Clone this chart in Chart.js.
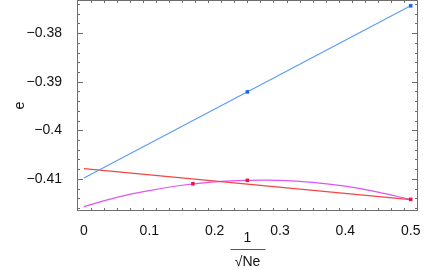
<!DOCTYPE html>
<html>
<head>
<meta charset="utf-8">
<script src="https://cdn.jsdelivr.net/npm/chart.js@4"></script>
<style>
  body { margin: 0; background: #fff; }
  #wrap { width: 436px; height: 270px; }
</style>
</head>
<body>
<div id="wrap"><canvas id="chart"></canvas></div>
<script>
// values
const blueLineX = [0, 0.5];
const blueLineY = [-0.4098, -0.3744];
const bluePointX = [0.25, 0.5];
const bluePointY = [-0.3921, -0.3744];

const redLineX = [0, 0.5];
const redLineY = [-0.4079, -0.41425];

const curveX = [0, 0.05, 0.1, 0.15, 0.2, 0.25, 0.3, 0.35, 0.4, 0.45, 0.5];
const curveY = [-0.4157, -0.4138, -0.4124, -0.4113, -0.4106, -0.4103, -0.4103, -0.4107, -0.4115, -0.4127, -0.41425];

const markX = [1 / 6, 0.25, 0.5];
const markY = [-0.4110, -0.4103, -0.4142];

const xTicks = [0, 0.1, 0.2, 0.3, 0.4, 0.5];
const xTickLabels = ['0', '0.1', '0.2', '0.3', '0.4', '0.5'];
const yTicks = [-0.41, -0.4, -0.39, -0.38];
const yTickLabels = ['\u22120.41', '\u22120.4', '\u22120.39', '\u22120.38'];

const pts = (xs, ys) => xs.map((x, i) => ({ x: x, y: ys[i] }));

const FONT = 'Liberation Sans, Arial, sans-serif';
const FRAME = '#6e6e6e';

// frame with inward ticks on all four sides, plus the 1/sqrt(Ne) label
const framePlugin = {
  id: 'frame',
  afterDraw(chart) {
    const { ctx, chartArea: a, scales } = chart;
    const xs = scales.x, ys = scales.y;
    ctx.save();
    ctx.strokeStyle = FRAME;
    ctx.lineWidth = 1;
    ctx.strokeRect(a.left + 0.5, a.top + 0.5, a.right - a.left - 1, a.bottom - a.top - 1);

    ctx.beginPath();
    for (let i = 0; i <= 26; i++) {
      const v = -0.01 + i * 0.02;
      if (v < xs.min || v > xs.max) continue;
      const major = Math.abs(v * 10 - Math.round(v * 10)) < 1e-6;
      const len = major ? 6 : 3;
      const px = Math.round(xs.getPixelForValue(v)) + 0.5;
      ctx.moveTo(px, a.bottom); ctx.lineTo(px, a.bottom - len);
      ctx.moveTo(px, a.top); ctx.lineTo(px, a.top + len);
    }
    for (let i = 0; i <= 25; i++) {
      const v = -0.418 + i * 0.002;
      if (v < ys.min || v > ys.max) continue;
      const major = Math.abs(v * 100 - Math.round(v * 100)) < 1e-6;
      const len = major ? 6 : 3;
      const py = Math.round(ys.getPixelForValue(v)) + 0.5;
      ctx.moveTo(a.left, py); ctx.lineTo(a.left + len, py);
      ctx.moveTo(a.right, py); ctx.lineTo(a.right - len, py);
    }
    ctx.stroke();

    // x title as a fraction
    const cx = (a.left + a.right) / 2;
    ctx.fillStyle = '#111';
    ctx.font = '14px ' + FONT;
    ctx.textAlign = 'center';
    ctx.textBaseline = 'middle';
    ctx.fillText('1', cx, 238);
    ctx.fillText('\u221ANe', cx, 262);
    ctx.strokeStyle = '#555';
    ctx.beginPath();
    ctx.moveTo(cx - 17, 249.5); ctx.lineTo(cx + 18, 249.5);
    ctx.stroke();
    ctx.restore();
  }
};

new Chart(document.getElementById('chart'), {
  type: 'scatter',
  data: {
    datasets: [
      { data: pts(bluePointX, bluePointY), pointStyle: 'rect', pointRadius: 2.5,
        backgroundColor: '#1a66e0', borderColor: '#1a66e0', borderWidth: 0, order: 0 },
      { data: pts(markX, markY), pointStyle: 'rect', pointRadius: 2.5,
        backgroundColor: '#ee1144', borderColor: '#ee1144', borderWidth: 0, order: 0 },
      { data: pts(blueLineX, blueLineY), showLine: true, pointRadius: 0,
        borderColor: '#5c9cf7', borderWidth: 1.2, order: 1 },
      { data: pts(redLineX, redLineY), showLine: true, pointRadius: 0,
        borderColor: '#f24646', borderWidth: 1.2, order: 1 },
      { data: pts(curveX, curveY), showLine: true, pointRadius: 0, tension: 0.4,
        borderColor: '#dd55f5', borderWidth: 1.2, order: 1 }
    ]
  },
  options: {
    responsive: true,
    maintainAspectRatio: false,
    animation: false,
    layout: { autoPadding: false, padding: { top: 0, right: 18, left: 0, bottom: 0 } },
    plugins: { legend: { display: false }, tooltip: { enabled: false } },
    scales: {
      x: {
        type: 'linear',
        min: -0.0107,
        max: 0.5112,
        grid: { display: false },
        border: { display: false },
        afterBuildTicks: s => { s.ticks = xTicks.map(v => ({ value: v })); },
        afterFit: s => { s.height = 59; s.paddingLeft = 0; s.paddingRight = 0; },
        ticks: {
          autoSkip: false, maxRotation: 0, padding: 4, color: '#111',
          font: { family: FONT, size: 14 },
          callback: v => xTickLabels[xTicks.findIndex(t => Math.abs(t - v) < 1e-9)]
        }
      },
      y: {
        type: 'linear',
        min: -0.4166,
        max: -0.3732,
        grid: { display: false },
        border: { display: false },
        afterBuildTicks: s => { s.ticks = yTicks.map(v => ({ value: v })); },
        afterFit: s => { s.width = 77; s.paddingTop = 0; s.paddingBottom = 0; },
        title: { display: true, text: 'e', color: '#111', padding: { top: 12, bottom: 0 },
          font: { family: FONT, size: 14 } },
        ticks: {
          autoSkip: false, padding: 7, color: '#111',
          font: { family: FONT, size: 14 },
          callback: v => yTickLabels[yTicks.findIndex(t => Math.abs(t - v) < 1e-9)]
        }
      }
    }
  },
  plugins: [framePlugin]
});
</script>
</body>
</html>
